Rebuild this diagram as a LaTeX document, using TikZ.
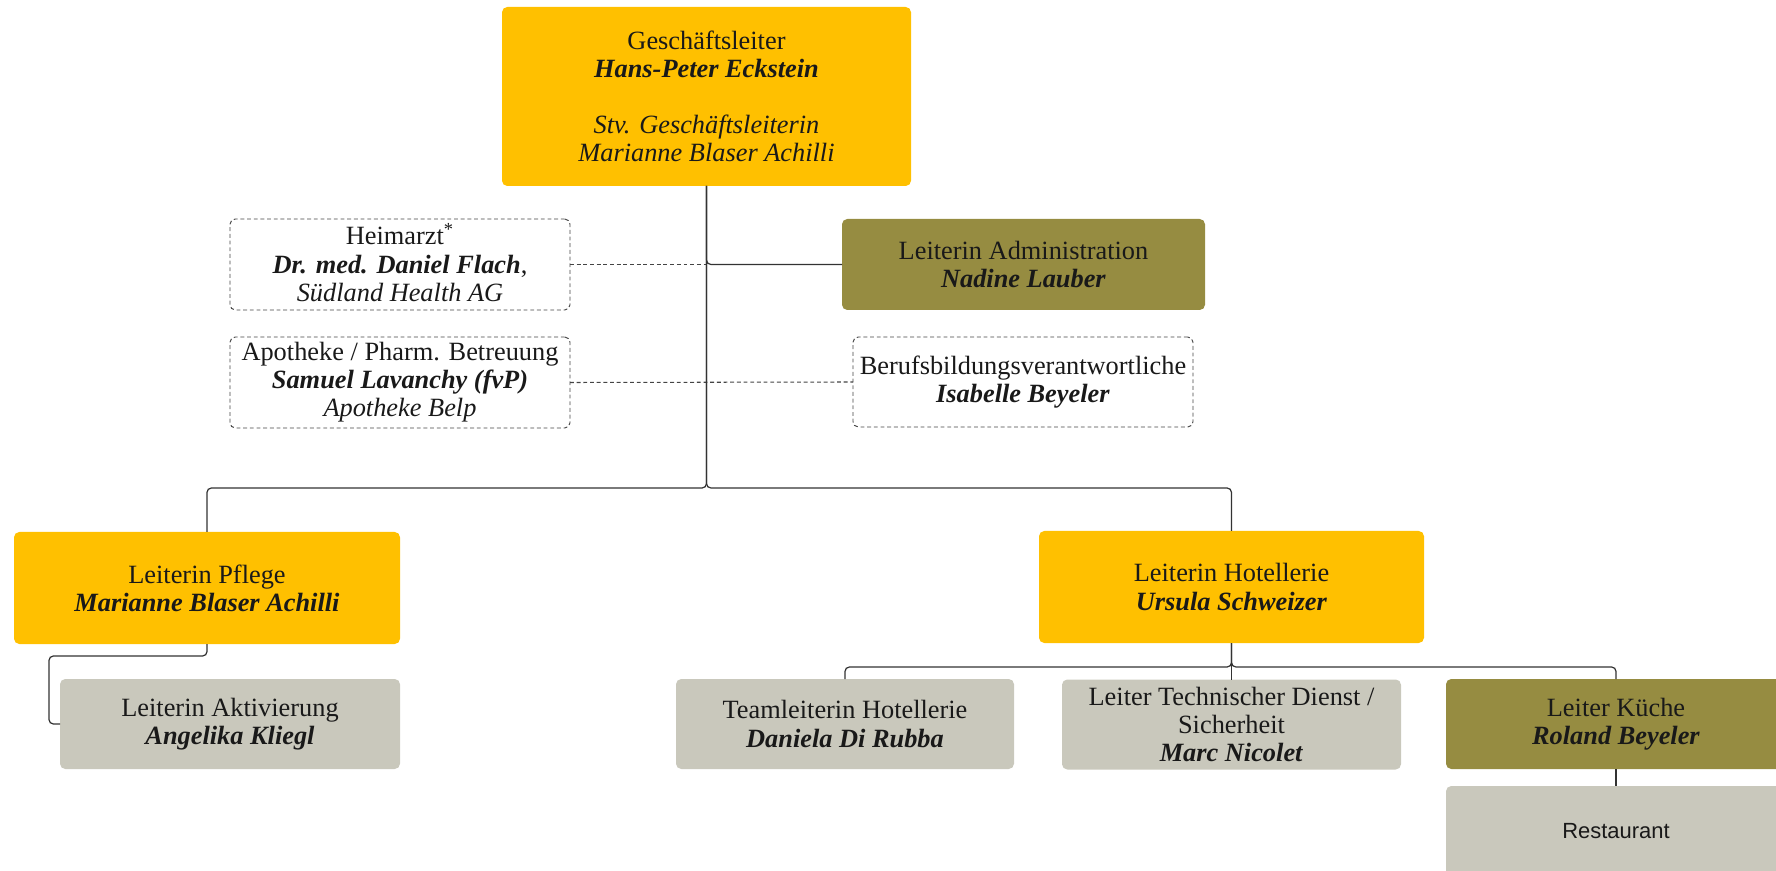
\documentclass[tikz,border=0pt]{standalone}
\usepackage{fontspec}
\setmainfont{Liberation Serif}
\newfontfamily\restfont{Liberation Sans}
\usepackage{xcolor}
\usepackage{tikz}
\usetikzlibrary{calc}
\usetikzlibrary{positioning}

\definecolor{leitgold}{HTML}{FFC000}
\definecolor{leitolive}{HTML}{968C41}
\definecolor{leitgrey}{HTML}{C9C8BC}
\definecolor{linegrey}{HTML}{333333}
\definecolor{stabgrey}{HTML}{444444}

\newlength{\pxu}
\setlength{\pxu}{0.02cm}
\newcommand{\nm}[1]{\textbf{\textit{#1}}}

\tikzset{>=latex}
\tikzstyle{orgbox} = [rectangle, rounded corners=3pt, inner sep=0pt, outer sep=0pt, align=center,
                      font=\fontsize{15}{16}\selectfont, text=black!90]
\tikzstyle{goldbox} = [orgbox, fill=leitgold]
\tikzstyle{olivebox} = [orgbox, fill=leitolive]
\tikzstyle{greybox} = [orgbox, fill=leitgrey]
\tikzstyle{stabbox} = [orgbox, draw=stabgrey, dash pattern=on 2.2pt off 1.6pt, line width=0.55pt]
\tikzstyle{link} = [-, draw=linegrey, line width=0.7pt, rounded corners=2.5pt]
\tikzstyle{stablink} = [-, draw=stabgrey, line width=0.6pt, dash pattern=on 2.2pt off 1.6pt]

\begin{document}
\begin{tikzpicture}[x=0.02cm, y=-0.02cm]
\useasboundingbox (0,0) rectangle (1776,871);

% Leitung
\node [goldbox, minimum width=409\pxu, minimum height=179\pxu] (gl) at (706.5, 96.5)
  {Geschäftsleiter\\ \nm{Hans-Peter Eckstein}\\[16pt] \textit{Stv. Geschäftsleiterin}\\ \textit{Marianne Blaser Achilli}};

% Stab
\node [stabbox, minimum width=340\pxu, minimum height=91\pxu] (arzt) at (400, 264.5)
  {Heimarzt\smash{\textsuperscript{*}}\\ \nm{Dr. med. Daniel Flach},\\ \textit{Südland Health AG}};
\node [stabbox, minimum width=340\pxu, minimum height=91\pxu] (apo) at (400, 382.5)
  {Apotheke / Pharm. Betreuung\\ \nm{Samuel Lavanchy (fvP)}\\ \textit{Apotheke Belp}};
\node [olivebox, minimum width=363\pxu, minimum height=91\pxu] (adm) at (1023.5, 264.5)
  {Leiterin Administration\\ \nm{Nadine Lauber}};
\node [stabbox, minimum width=340\pxu, minimum height=90\pxu] (beruf) at (1023, 382)
  {Berufsbildungsverantwortliche\\ \nm{Isabelle Beyeler}};

% Bereiche
\node [goldbox, minimum width=386\pxu, minimum height=112\pxu] (pflege) at (207, 588)
  {Leiterin Pflege\\ \nm{Marianne Blaser Achilli}};
\node [greybox, minimum width=340\pxu, minimum height=90\pxu] (akt) at (230, 724)
  {Leiterin Aktivierung\\ \nm{Angelika Kliegl}};
\node [goldbox, minimum width=385\pxu, minimum height=112\pxu] (hotel) at (1231.5, 587)
  {Leiterin Hotellerie\\ \nm{Ursula Schweizer}};
\node [greybox, minimum width=338\pxu, minimum height=90\pxu] (team) at (845, 724)
  {Teamleiterin Hotellerie\\ \nm{Daniela Di Rubba}};
\node [greybox, minimum width=339\pxu, minimum height=90\pxu] (tech) at (1231.5, 724.5)
  {Leiter Technischer Dienst /\\ Sicherheit\\ \nm{Marc Nicolet}};
\node [olivebox, minimum width=340\pxu, minimum height=90\pxu] (kueche) at (1616, 724)
  {Leiter Küche\\ \nm{Roland Beyeler}};
\node [greybox, minimum width=340\pxu, minimum height=90\pxu, font=\restfont\fontsize{12.5}{14}\selectfont] (rest) at (1616, 831)
  {Restaurant};

% Verbindungen
\coordinate (j1) at (706.5, 488);
\coordinate (j2) at (1231.5, 667);
\coordinate (a1) at (49, 656);
\draw [stablink] (arzt.east) -- (arzt.east -| gl.south);
\draw [stablink] (apo.east) -- (beruf.west);
\draw [link] (gl.south) |- (adm.west);
\draw [link] (gl.south) -- (j1) -| (pflege.north);
\draw [link] (gl.south) -- (j1) -| (hotel.north);
\draw [link] (pflege.south) |- (a1) |- (akt.west);
\draw [link] (hotel.south) -- (j2) -| (team.north);
\draw [link] (hotel.south) -- (tech.north);
\draw [link] (hotel.south) -- (j2) -| (kueche.north);
\draw [link] (kueche.south) -- (rest.north);
\end{tikzpicture}
\end{document}
